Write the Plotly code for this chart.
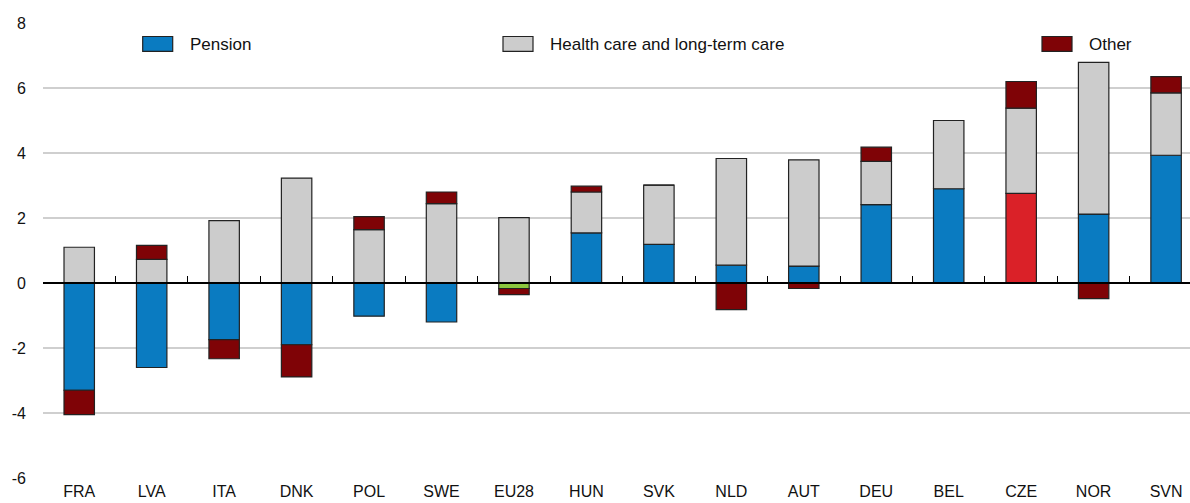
import plotly.graph_objects as go

# Contribution to change in spending, by component (percentage points)
countries = ["FRA", "LVA", "ITA", "DNK", "POL", "SWE", "EU28", "HUN", "SVK",
             "NLD", "AUT", "DEU", "BEL", "CZE", "NOR", "SVN"]
pension = [-3.30, -2.60, -1.74, -1.90, -1.02, -1.20, -0.17, 1.54, 1.19,
           0.55, 0.52, 2.41, 2.90, 2.76, 2.12, 3.93]
health = [1.10, 0.73, 1.92, 3.23, 1.64, 2.44, 2.01, 1.26, 1.82,
          3.28, 3.27, 1.33, 2.10, 2.62, 4.67, 1.92]
other = [-0.75, 0.43, -0.59, -0.99, 0.40, 0.36, -0.19, 0.18, 0.00,
         -0.82, -0.17, 0.44, 0.00, 0.82, -0.48, 0.50]
y_ticks = [-6, -4, -2, 0, 2, 4, 6, 8]

BLUE = "#0A7BC1"
GREY = "#CCCCCC"
DARK_RED = "#7F0306"
HIGHLIGHT = {"EU28": "#8CC63F", "CZE": "#DA2128"}
FONT = "Liberation Sans, Arial, sans-serif"

pension_colors = [HIGHLIGHT.get(c, BLUE) for c in countries]
xs = list(range(len(countries)))
outline = dict(color="#222222", width=1.2)

fig = go.Figure()
fig.add_trace(go.Bar(x=xs, y=pension, name="Pension", width=0.42,
                     marker=dict(color=pension_colors, line=outline)))
fig.add_trace(go.Bar(x=xs, y=health, name="Health care and long-term care",
                     width=0.42, marker=dict(color=GREY, line=outline)))
fig.add_trace(go.Bar(x=xs, y=other, name="Other", width=0.42,
                     marker=dict(color=DARK_RED, line=outline)))

# Layout geometry (pixels)
W, H = 1190, 503
L, T, B = 43, 22.5, 25
plot_w = W - L
plot_h = H - T - B


def px_x(p):
    return (p - L) / plot_w


def px_y(p):
    return (H - B - p) / plot_h


# Legend drawn as swatches + labels across the top of the plot
legend_items = [("Pension", BLUE, 142.7), ("Health care and long-term care", GREY, 503),
                ("Other", DARK_RED, 1042)]
shapes = []
annotations = []
for label, color, x0 in legend_items:
    shapes.append(dict(type="rect", xref="paper", yref="paper",
                       x0=px_x(x0), x1=px_x(x0 + 30), y0=px_y(51), y1=px_y(36),
                       fillcolor=color, line=dict(color="#222222", width=1.2)))
    annotations.append(dict(xref="paper", yref="paper", x=px_x(x0 + 45), y=px_y(44),
                            text=label, showarrow=False, xanchor="left", yanchor="middle",
                            font=dict(family=FONT, size=17, color="#111111")))

x_range = [-0.5, 15.33]
fig.update_layout(
    width=W, height=H,
    barmode="relative",
    bargap=0.58,
    showlegend=False,
    plot_bgcolor="white", paper_bgcolor="white",
    margin=dict(l=L, r=0, t=T, b=B, autoexpand=False),
    font=dict(family=FONT, size=16, color="#111111"),
    shapes=shapes,
    annotations=annotations,
    xaxis=dict(range=x_range, tickmode="array", tickvals=xs, ticktext=countries,
               showgrid=False, zeroline=False, showline=False, ticks="",
               ticklabelstandoff=2, tickfont=dict(size=16), automargin=False),
    # Zero axis with small upward ticks between categories
    xaxis2=dict(range=x_range, overlaying="x", anchor="free", position=6 / 14,
                side="bottom", showline=True, linecolor="#000000", linewidth=1.6,
                ticks="inside", ticklen=6, tickwidth=1.4, tickcolor="#000000",
                tickmode="array", tickvals=[i - 0.5 for i in range(len(countries) + 1)],
                showticklabels=False, showgrid=False, zeroline=False, automargin=False),
    yaxis=dict(range=[-6, 8], tickmode="array", tickvals=y_ticks,
               ticktext=[str(v) for v in y_ticks],
               showgrid=True, gridcolor="#CFCFCF", gridwidth=1.5,
               zeroline=False, showline=False, ticks="",
               ticklabelstandoff=16, tickfont=dict(size=16), automargin=False),
)
# Invisible trace so the zero axis renders
fig.add_trace(go.Scatter(x=[x_range[0]], y=[0], xaxis="x2", mode="markers",
                         marker=dict(opacity=0), hoverinfo="skip", showlegend=False))

fig.write_html("out.html")
